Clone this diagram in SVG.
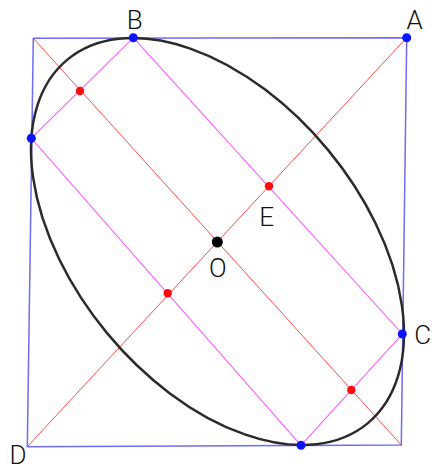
<svg xmlns="http://www.w3.org/2000/svg" width="432" height="471" viewBox="0 0 432 471">
<style>
.sq{fill:none;stroke:#6f6cf5;stroke-width:1.5}
.diag{stroke:#ff4a4a;stroke-width:1;fill:none}
.rect{stroke:#ff5cff;stroke-width:1.1;fill:none}
.ell{fill:none;stroke:#2b2b2b;stroke-width:2.5}
.bd{fill:#0a14ff}
.rd{fill:#ff0a0a}
.lbl{font-family:Roboto,"Liberation Sans",sans-serif;font-weight:300;font-size:26px;fill:#111;text-anchor:middle}
</style>
<rect width="432" height="471" fill="#fff"/>
<g id="connectors">
<polygon class="sq" points="33.3,38.3 406.7,37.7 401.3,445 27.3,446.7"/>
<line class="diag" x1="33.3" y1="38.3" x2="401.3" y2="445"/>
<line class="diag" x1="406.7" y1="37.7" x2="27.3" y2="446.7"/>
<polygon class="rect" points="133.3,37.7 402.3,334 301,445.3 31.3,138.3"/>
</g>
<g id="ellipse">
<ellipse class="ell" cx="217.5" cy="241.5" rx="235.8" ry="143.5" transform="rotate(50.46 217.5 241.5)"/>
</g>
<g id="node-A"><circle class="bd" cx="406.7" cy="37.7" r="4.5"/><text class="lbl" x="414.7" y="29.3">A</text></g>
<g id="node-B"><circle class="bd" cx="133.3" cy="37.7" r="4.5"/><text class="lbl" x="134.7" y="29.3">B</text></g>
<g id="node-C"><circle class="bd" cx="402.3" cy="334" r="4.5"/><text class="lbl" x="422.7" y="344">C</text></g>
<g id="node-D"><text class="lbl" x="18" y="464">D</text></g>
<g id="node-L"><circle class="bd" cx="31.3" cy="138.3" r="4.5"/></g>
<g id="node-Bot"><circle class="bd" cx="301" cy="445.3" r="4.5"/></g>
<g id="node-E"><circle class="rd" cx="269" cy="186.3" r="4.2"/><text class="lbl" x="266.7" y="226">E</text></g>
<g id="node-O"><circle fill="#000" cx="217.3" cy="242" r="5.5"/><text class="lbl" x="217.8" y="277.3">O</text></g>
<g id="node-M1"><circle class="rd" cx="80" cy="91" r="4.2"/></g>
<g id="node-M2"><circle class="rd" cx="167.7" cy="293.3" r="4.2"/></g>
<g id="node-M3"><circle class="rd" cx="351.3" cy="390" r="4.2"/></g>
</svg>
